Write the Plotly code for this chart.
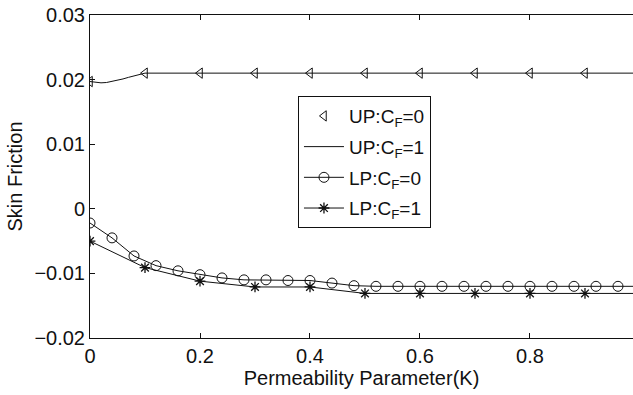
import plotly.graph_objects as go

# ---- data ----
x_tri = [0.0, 0.1, 0.2, 0.3, 0.4, 0.5, 0.6, 0.7, 0.8, 0.9]
y_tri = [0.0197, 0.021, 0.021, 0.021, 0.021, 0.021, 0.021, 0.021, 0.021, 0.021]

x_up1 = [0.0, 0.01, 0.02, 0.03, 0.04, 0.05, 0.06, 0.07, 0.08, 0.09, 0.1, 1.0]
y_up1 = [0.0197, 0.01955, 0.0195, 0.01955, 0.0197, 0.0199, 0.0201, 0.02035, 0.0206, 0.0208, 0.021, 0.021]

x_circ = [0.0, 0.04, 0.08, 0.12, 0.16, 0.2, 0.24, 0.28, 0.32, 0.36, 0.4, 0.44,
          0.48, 0.52, 0.56, 0.6, 0.64, 0.68, 0.72, 0.76, 0.8, 0.84, 0.88, 0.92, 0.96, 1.0]
y_circ = [-0.0022, -0.0045, -0.0073, -0.0088, -0.0096, -0.0102, -0.0107, -0.0110,
          -0.0110, -0.0111, -0.0111, -0.0115, -0.0119, -0.0120, -0.0120, -0.0120,
          -0.0120, -0.0120, -0.0120, -0.0120, -0.0120, -0.0120, -0.0120, -0.0120,
          -0.0120, -0.0120]

x_star = [0.0, 0.1, 0.2, 0.3, 0.4, 0.5, 0.6, 0.7, 0.8, 0.9, 1.0]
y_star = [-0.005, -0.0091, -0.0112, -0.0121, -0.0121, -0.0131, -0.0131, -0.0131,
          -0.0131, -0.0131, -0.0131]

x_ticks = [0, 0.2, 0.4, 0.6, 0.8]
x_ticktext = ["0", "0.2", "0.4", "0.6", "0.8"]
y_ticks = [-0.02, -0.01, 0, 0.01, 0.02, 0.03]
y_ticktext = ["\u22120.02", "\u22120.01", "0", "0.01", "0.02", "0.03"]

names = ["UP:C<sub>F</sub>=0", "UP:C<sub>F</sub>=1", "LP:C<sub>F</sub>=0", "LP:C<sub>F</sub>=1"]

FONT = "Liberation Sans, Arial, Helvetica, sans-serif"
BLK = "#111111"

fig = go.Figure()
fig.add_trace(go.Scatter(x=x_tri, y=y_tri, mode="markers", name=names[0], legendgroup="a",
                         marker=dict(symbol="triangle-left-open", size=9, color=BLK,
                                     line=dict(width=1, color=BLK))))
fig.add_trace(go.Scatter(x=x_up1, y=y_up1, mode="lines", name=names[1], legendgroup="b",
                         line=dict(color=BLK, width=1)))
fig.add_trace(go.Scatter(x=x_circ, y=y_circ, mode="lines+markers", name=names[2], legendgroup="c",
                         line=dict(color=BLK, width=1),
                         marker=dict(symbol="circle-open", size=10, color=BLK,
                                     line=dict(width=1, color=BLK))))
fig.add_trace(go.Scatter(x=x_star, y=y_star, mode="lines+markers", name=names[3], legendgroup="d",
                         line=dict(color=BLK, width=1),
                         marker=dict(symbol="asterisk-open", size=9, color=BLK,
                                     line=dict(width=1.3, color=BLK))))

fig.update_layout(
    width=633, height=395,
    margin=dict(l=90, r=0, t=15, b=57),
    paper_bgcolor="white", plot_bgcolor="white",
    font=dict(family=FONT, size=20, color=BLK),
    showlegend=True,
    legend=dict(x=0.383, y=0.749, xanchor="left", yanchor="top",
                bgcolor="white", bordercolor=BLK, borderwidth=1,
                font=dict(family=FONT, size=19, color=BLK),
                itemwidth=40, tracegroupgap=3, traceorder="grouped"),
    xaxis=dict(range=[0, 0.9873], tickvals=x_ticks, ticktext=x_ticktext,
               ticks="inside", ticklen=5, tickwidth=1, tickcolor=BLK,
               showline=True, linecolor=BLK, linewidth=1, mirror="ticks",
               showgrid=False, zeroline=False,
               title=dict(text="Permeability Parameter(K)", font=dict(size=20), standoff=2),
               tickfont=dict(size=20)),
    yaxis=dict(range=[-0.02, 0.03], tickvals=y_ticks, ticktext=y_ticktext,
               ticks="inside", ticklen=5, tickwidth=1, tickcolor=BLK,
               showline=True, linecolor=BLK, linewidth=1,
               showgrid=False, zeroline=False,
               title=dict(text="Skin Friction", font=dict(size=20), standoff=6),
               tickfont=dict(size=20)),
)

fig.write_html("out.html")
